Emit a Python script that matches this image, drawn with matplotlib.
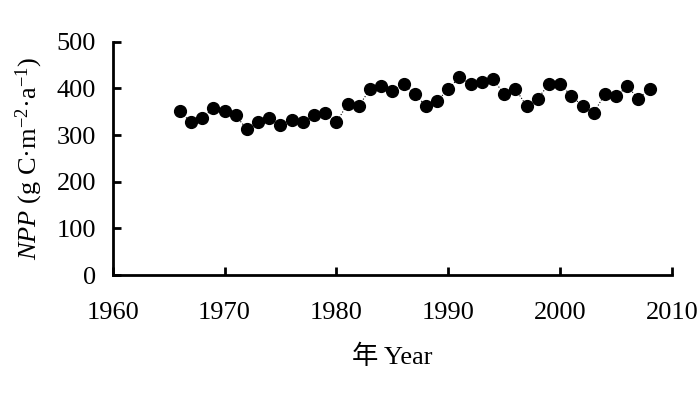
import matplotlib
matplotlib.use("Agg")
import matplotlib.pyplot as plt

plt.rcParams['font.family'] = ['Liberation Serif', 'Noto Sans CJK SC']
plt.rcParams['mathtext.fontset'] = 'custom'
plt.rcParams['mathtext.rm'] = 'Liberation Serif'
plt.rcParams['mathtext.it'] = 'Liberation Serif:italic'

years = list(range(1966, 2009))
npp = [351, 327, 337, 357, 351, 342, 312, 327, 337, 321,
       332, 327, 342, 347, 327, 367, 362, 398, 404, 394,
       409, 388, 362, 373, 398, 424, 409, 413, 419, 388,
       399, 362, 378, 409, 409, 384, 362, 347, 388, 383,
       404, 378, 399]

fig = plt.figure(figsize=(7, 3.96), dpi=100)
ax = fig.add_axes([0.161, 0.305, 0.799, 0.59])

ax.plot(years, npp, color='black', linestyle=':', linewidth=0.8,
        marker='o', markersize=8.5, markerfacecolor='black',
        markeredgecolor='black', clip_on=False)

ax.set_xlim(1960, 2010)
ax.set_ylim(0, 500)
ax.set_xticks(range(1960, 2011, 10))
ax.set_yticks(range(0, 501, 100))

for side in ['top', 'right']:
    ax.spines[side].set_visible(False)
for side in ['left', 'bottom']:
    ax.spines[side].set_linewidth(2)

ax.tick_params(direction='in', length=6, width=2, labelsize=19)
ax.tick_params(axis='x', pad=19)
ax.tick_params(axis='y', pad=12)

ax.set_xlabel('年 Year', fontsize=19, labelpad=15)
ax.set_ylabel(r'$\it{NPP}$ (g C·m$^{-2}$·a$^{-1}$)', fontsize=19, labelpad=8)

fig.savefig('out.png', dpi=100)
